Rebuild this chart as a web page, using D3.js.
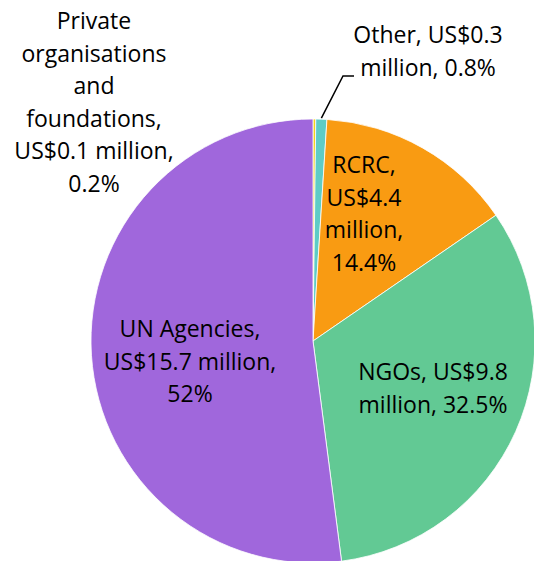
<!DOCTYPE html>
<html>
<head>
<meta charset="utf-8">
<script src="https://cdn.jsdelivr.net/npm/d3@7"></script>
<style>
	html, body { margin: 0; padding: 0; background: #fff; }
	svg { display: block; }
	.lbl { font-family: "Open Sans", Lato, sans-serif; font-size: 23px; fill: #000; }
</style>
</head>
<body>
<div id="chart"></div>
<script>
// data (pie runs clockwise from 12 o'clock)
const categories = ['Private organisations and foundations', 'Other', 'RCRC', 'NGOs', 'UN Agencies']
const amounts = [0.1, 0.3, 4.4, 9.8, 15.7]   // US$ million
const shares = [0.2, 0.8, 14.4, 32.5, 52]    // %
const labelLines = [
	['Private', 'organisations', 'and', 'foundations,', 'US$0.1 million,', '0.2%'],
	['Other, US$0.3', 'million, 0.8%'],
	['RCRC,', 'US$4.4', 'million,', '14.4%'],
	['NGOs, US$9.8', 'million, 32.5%'],
	['UN Agencies,', 'US$15.7 million,', '52%']
]

const colors = ['#F6D21C', '#5ECCC6', '#F99B12', '#62C994', '#A067DC']

const width = 534,
	height = 561,
	cx = 313,
	cy = 341,
	radius = 222,
	lineH = 32.6

// where each label block sits: centre x and first baseline
const labelAt = [
	{ x: 94, y: 29 },
	{ x: 428, y: 43 },
	{ x: 364, y: 173 },
	{ x: 433, y: 380 },
	{ x: 190, y: 337 }
]

const data = categories.map((c, i) => ({ name: c, amount: amounts[i], share: shares[i], i: i }))

const svg = d3.select('#chart').append('svg')
	.attr('width', width)
	.attr('height', height)

const pie = d3.pie()
	.sort(null)
	.value((d) => d.share)

const arc = d3.arc()
	.innerRadius(0)
	.outerRadius(radius)

const g = svg.append('g')
	.attr('transform', 'translate(' + cx + ',' + cy + ')')

const arcs = pie(data)

g.selectAll('path.slice')
	.data(arcs)
	.enter().append('path')
		.attr('class', 'slice')
		.attr('d', arc)
		.attr('fill', (d) => colors[d.data.i])
		.attr('stroke', '#fff')
		.attr('stroke-width', 0.8)

// leader line for the small "Other" slice
const other = arcs[1],
	mid = (other.startAngle + other.endAngle) / 2,
	sx = cx + radius * Math.sin(mid),
	sy = cy - radius * Math.cos(mid)

svg.append('polyline')
	.attr('points', [[sx, sy - 1], [343, 76], [354, 76]].map((p) => p.join(',')).join(' '))
	.attr('fill', 'none')
	.attr('stroke', '#000')
	.attr('stroke-width', 1.5)

// Labels
labelLines.forEach((lines, i) => {
	const t = svg.append('text')
		.attr('class', 'lbl')
		.attr('text-anchor', 'middle')
	lines.forEach((s, j) => {
		t.append('tspan')
			.attr('x', labelAt[i].x)
			.attr('y', labelAt[i].y + j * lineH)
			.text(s)
	})
})
</script>
</body>
</html>
